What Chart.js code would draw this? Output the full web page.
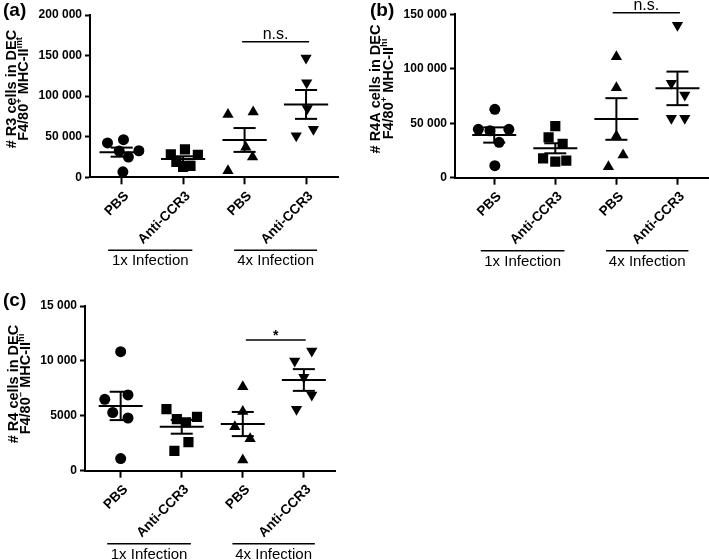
<!DOCTYPE html>
<html>
<head>
<meta charset="utf-8">
<script src="https://cdn.jsdelivr.net/npm/chart.js@4"></script>
<style>
  html, body { margin: 0; padding: 0; background: #fff; }
  body { width: 709px; height: 560px; position: relative; overflow: hidden; }
  canvas { position: absolute; }
</style>
</head>
<body>
<canvas id="panelA" width="355" height="280" style="left:0;top:0"></canvas>
<canvas id="panelB" width="354" height="280" style="left:355px;top:0"></canvas>
<canvas id="panelC" width="355" height="280" style="left:0;top:280px"></canvas>
<script>
const FONT = '"Liberation Sans", Arial, Helvetica, sans-serif';

const groups = ['PBS', 'Anti-CCR3', 'PBS', 'Anti-CCR3'];
const infections = ['1x Infection', '4x Infection'];
const pointShapes = ['circle', 'rect', 'triangle', 'triangle'];
const pointTurns = [0, 0, 0, 180];

// (a) R3 cells
const r3Values = [
  [42400, 46400, 32700, 32400, 24900, 6800],
  [28200, 34300, 27800, 18900, 12800, 14000],
  [77500, 80600, 37000, 24900, 8000],
  [146900, 116600, 84700, 51200, 59300]
];
const r3Jitter = [
  [-0.23, 0.03, 0.28, -0.04, 0.11, 0.02],
  [-0.2, 0.03, 0.24, -0.11, 0, 0.12],
  [-0.27, 0.14, 0.02, 0.13, -0.27],
  [0, 0.01, 0.02, -0.16, 0.12]
];
const r3Means = [31000, 22500, 46000, 89800];
const r3Sems = [5600, 3400, 14700, 17800];

// (b) R4A cells
const r4aValues = [
  [62800, 44400, 44400, 43100, 32500, 11000],
  [47400, 37000, 31000, 17800, 14700, 15600],
  [111000, 82600, 38300, 20800, 10100],
  [140000, 86600, 75900, 54500, 54500]
];
const r4aJitter = [
  [0.01, -0.26, 0.24, -0.07, 0.08, 0.01],
  [0, -0.11, 0.12, -0.2, 0, 0.18],
  [0, 0, 0, 0.11, -0.13],
  [0, -0.1, 0.12, -0.1, 0.12]
];
const r4aMeans = [39200, 27000, 53900, 82000];
const r4aSems = [7000, 4600, 19100, 15400];

// (c) R4 cells
const r4Values = [
  [10840, 6500, 6900, 5300, 4800, 1100],
  [5600, 4700, 4400, 4900, 2600, 1800],
  [7650, 5400, 4000, 2900, 970],
  [10000, 10900, 8500, 6900, 5600]
];
const r4Jitter = [
  [0, -0.26, 0.12, -0.13, 0.12, 0],
  [-0.25, -0.08, 0.07, 0.25, 0.11, -0.12],
  [0, 0, -0.13, 0.12, 0],
  [-0.15, 0.13, 0, 0.13, -0.12]
];
const r4Means = [5900, 4000, 4250, 8260];
const r4Sems = [1290, 630, 1100, 990];

function fmtTick(v) {
  if (v < 10000) return String(v);
  return String(v).replace(/\B(?=(\d{3})+(?!\d))/g, ' ');
}

function drawRich(ctx, segs, cx, cy, size) {
  const sup = size * 0.64;
  let w = 0;
  segs.forEach(s => {
    ctx.font = 'bold ' + (s.sup ? sup : size) + 'px ' + FONT;
    s.w = ctx.measureText(s.t).width;
    w += s.w;
  });
  ctx.save();
  ctx.translate(cx, cy);
  ctx.rotate(-Math.PI / 2);
  ctx.textAlign = 'left';
  ctx.textBaseline = 'middle';
  let x = -w / 2;
  segs.forEach(s => {
    ctx.font = 'bold ' + (s.sup ? sup : size) + 'px ' + FONT;
    ctx.fillText(s.t, x, s.sup ? -size * 0.33 : 0);
    x += s.w;
  });
  ctx.restore();
}

function hline(ctx, x1, x2, y) {
  ctx.beginPath();
  ctx.moveTo(x1, y);
  ctx.lineTo(x2, y);
  ctx.stroke();
}

function extras(p) {
  return {
    id: 'extras',
    afterDatasetsDraw(chart) {
      const { ctx, scales: { x, y } } = chart;
      ctx.save();
      ctx.strokeStyle = '#000';
      ctx.lineWidth = 2;
      p.means.forEach((m, i) => {
        const c = i + 1;
        const top = y.getPixelForValue(m + p.sems[i]);
        const bot = y.getPixelForValue(m - p.sems[i]);
        hline(ctx, x.getPixelForValue(c - 0.36), x.getPixelForValue(c + 0.36), y.getPixelForValue(m));
        hline(ctx, x.getPixelForValue(c - 0.18), x.getPixelForValue(c + 0.18), top);
        hline(ctx, x.getPixelForValue(c - 0.18), x.getPixelForValue(c + 0.18), bot);
        ctx.beginPath();
        ctx.moveTo(x.getPixelForValue(c), top);
        ctx.lineTo(x.getPixelForValue(c), bot);
        ctx.stroke();
      });
      ctx.restore();
    },
    afterDraw(chart) {
      const { ctx, chartArea, scales: { x, y } } = chart;
      ctx.save();
      ctx.fillStyle = '#000';
      ctx.strokeStyle = '#000';

      // panel letter
      ctx.font = 'bold 19px ' + FONT;
      ctx.textAlign = 'left';
      ctx.textBaseline = 'middle';
      ctx.fillText(p.letter, p.letterX, p.letterY);

      // axis title
      p.title.forEach((line, i) => drawRich(ctx, line, p.titleX[i], p.titleY, 14.5));

      // significance bar
      const sy = y.getPixelForValue(p.sig.y);
      ctx.lineWidth = 1.6;
      hline(ctx, x.getPixelForValue(p.sig.from), x.getPixelForValue(p.sig.to), sy);
      ctx.font = (p.sig.text === '*' ? 'bold 14px ' : '16px ') + FONT;
      ctx.textAlign = 'center';
      ctx.textBaseline = 'alphabetic';
      ctx.fillText(p.sig.text, x.getPixelForValue((p.sig.from + p.sig.to) / 2), sy - (p.sig.text === '*' ? 0 : 3));

      // infection groups
      const spans = [[0.78, 2.15], [2.83, 4.18]];
      ctx.font = '15px ' + FONT;
      ctx.textBaseline = 'middle';
      spans.forEach((s, i) => {
        const gy = chartArea.bottom + 73;
        hline(ctx, x.getPixelForValue(s[0]), x.getPixelForValue(s[1]), gy);
        ctx.fillText(infections[i], x.getPixelForValue((s[0] + s[1]) / 2), gy + 11);
      });
      ctx.restore();
    }
  };
}

function makePanel(id, p) {
  const datasets = p.values.map((vals, i) => ({
    data: vals.map((v, j) => ({ x: i + 1 + p.jitter[i][j], y: v })),
    pointStyle: pointShapes[i],
    rotation: pointTurns[i],
    pointRadius: [5.5, 7.2, 6.5, 6.5][i],
    backgroundColor: '#000',
    borderColor: '#000',
    borderWidth: 0
  }));
  const canvas = document.getElementById(id);
  return new Chart(canvas, {
    type: 'scatter',
    data: { datasets },
    options: {
      responsive: false,
      animation: false,
      layout: {
        autoPadding: false,
        padding: { left: 0, top: p.area.top, right: canvas.width - p.area.right, bottom: 0 }
      },
      plugins: { legend: { display: false }, tooltip: { enabled: false } },
      scales: {
        x: {
          type: 'linear',
          min: p.xMin,
          max: p.xMax,
          afterBuildTicks: s => { s.ticks = [1, 2, 3, 4].map(v => ({ value: v })); },
          afterFit: s => { s.height = canvas.height - p.area.bottom; },
          ticks: {
            autoSkip: false,
            minRotation: 45,
            maxRotation: 45,
            padding: 4,
            labelOffset: 5,
            color: '#000',
            font: { family: FONT, size: 13.5, weight: 'bold' },
            callback: v => groups[v - 1]
          },
          grid: { drawOnChartArea: false, tickLength: 7, tickWidth: 2, tickColor: '#000' },
          border: { color: '#000', width: 2 }
        },
        y: {
          min: 0,
          max: p.yMax,
          afterBuildTicks: s => { s.ticks = p.yTicks.map(v => ({ value: v })); },
          afterFit: s => { s.width = p.area.left; },
          ticks: {
            padding: 3,
            color: '#000',
            font: { family: FONT, size: 12, weight: 'bold' },
            callback: v => fmtTick(v)
          },
          grid: { drawOnChartArea: false, tickLength: 5, tickWidth: 2, tickColor: '#000' },
          border: { color: '#000', width: 2 }
        }
      }
    },
    plugins: [extras(p)]
  });
}

makePanel('panelA', {
  values: r3Values, jitter: r3Jitter, means: r3Means, sems: r3Sems,
  yMax: 200000, yTicks: [0, 50000, 100000, 150000, 200000],
  xMin: 0.485, xMax: 4.52,
  area: { left: 90, top: 15, right: 338, bottom: 177.3 },
  letter: '(a)', letterX: 3, letterY: 11,
  title: [
    [{ t: '# R3 cells in DEC' }],
    [{ t: 'F4/80' }, { t: '+', sup: true }, { t: ' MHC-II' }, { t: 'int', sup: true }]
  ],
  titleX: [11.5, 24], titleY: 89,
  sig: { from: 2.96, to: 4.05, y: 167000, text: 'n.s.' }
});

makePanel('panelB', {
  values: r4aValues, jitter: r4aJitter, means: r4aMeans, sems: r4aSems,
  yMax: 150000, yTicks: [0, 50000, 100000, 150000],
  xMin: 0.358, xMax: 4.5,
  area: { left: 100, top: 14.3, right: 353, bottom: 177.7 },
  letter: '(b)', letterX: 15, letterY: 11,
  title: [
    [{ t: '# R4A cells in DEC' }],
    [{ t: 'F4/80' }, { t: '+', sup: true }, { t: ' MHC-II' }, { t: 'hi', sup: true }]
  ],
  titleX: [21.2, 33.8], titleY: 89,
  sig: { from: 2.94, to: 4.04, y: 151400, text: 'n.s.' }
});

makePanel('panelC', {
  values: r4Values, jitter: r4Jitter, means: r4Means, sems: r4Sems,
  yMax: 15000, yTicks: [0, 5000, 10000, 15000],
  xMin: 0.416, xMax: 4.51,
  area: { left: 85, top: 26, right: 335, bottom: 190.7 },
  letter: '(c)', letterX: 3, letterY: 21,
  title: [
    [{ t: '# R4 cells in DEC' }],
    [{ t: 'F4/80' }, { t: '−', sup: true }, { t: ' MHC-II' }, { t: 'hi', sup: true }]
  ],
  titleX: [13.5, 26], titleY: 104,
  sig: { from: 3.05, to: 4.03, y: 11900, text: '*' }
});
</script>
</body>
</html>
